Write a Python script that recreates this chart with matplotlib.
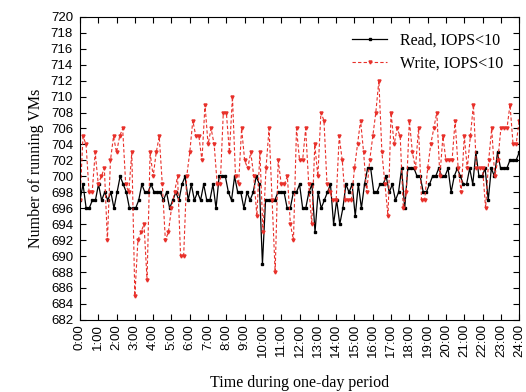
import numpy as np
import matplotlib
import matplotlib.pyplot as plt

matplotlib.use("Agg")

# running VMs, sampled roughly every 10 minutes over one day
read_vms = [
    697, 699, 696, 696, 697, 697, 699, 697, 698, 697, 698, 696, 698, 700, 699, 698,
    696, 696, 696, 697, 699, 698, 698, 699,
    698, 698, 698, 697, 698, 696, 697, 698, 697, 699, 700, 697, 699, 697, 698, 697,
    699, 697, 697, 699, 696, 700, 700, 700,
    698, 697, 700, 698, 698, 696, 698, 697, 698, 700, 699, 689, 697, 697, 697, 697,
    698, 698, 698, 696, 696, 698,
    698, 699, 696, 696, 698, 699, 693, 698, 696, 697, 698, 699, 694, 697, 694, 696,
    699, 698, 699, 695, 699, 696, 699, 701,
    701, 698, 698, 699, 699, 700, 698, 699, 697, 698, 701, 696, 701, 701, 701, 700,
    700, 698, 698, 699, 700, 700, 701, 700,
    700, 701, 698, 700, 701, 700, 699, 699, 701, 699, 703, 700, 700, 701, 697, 701,
    700, 703, 701, 701, 701, 702, 702, 702, 703,
]

write_vms = [
    697, 705, 704, 698, 698, 703, 699, 700, 701, 692, 702, 705, 703, 705, 706, 699,
    698, 703, 685, 692, 693, 694, 687, 703,
    700, 703, 705, 699, 692, 693, 696, 698, 700, 690, 690, 700, 703, 707, 705, 705,
    702, 709, 704, 706, 704, 699, 699, 708,
    708, 703, 710, 700, 699, 706, 702, 701, 703, 700, 695, 703, 693, 701, 706, 697,
    688, 702, 699, 699, 700, 694, 692,
    706, 702, 702, 706, 699, 694, 704, 700, 708, 707, 699, 698, 697, 697, 705, 702,
    697, 697, 697, 701, 704, 707, 703, 698,
    702, 705, 708, 712, 703, 699, 695, 708, 704, 706, 705, 696, 698, 707, 703, 701,
    706, 697, 697, 701, 704, 706, 708, 700,
    705, 702, 702, 702, 707, 701, 698, 705, 701, 705, 709, 701, 701, 701, 696, 702,
    706, 700, 702, 706, 706, 706, 709, 704, 704, 707,
]

hours = list(range(25))
hour_labels = ["%d:00" % h for h in hours]
y_ticks = list(range(682, 721, 2))

t_read = np.linspace(0, 24, len(read_vms))
t_write = np.linspace(0, 24, len(write_vms))

fig = plt.figure(figsize=(5.26, 3.92), dpi=100)
ax = fig.add_axes([0.152, 0.184, 0.835, 0.773])

ax.plot(t_read, read_vms, 'k-', lw=0.9, marker='s', ms=1.6, label="Read, IOPS<10")
ax.plot(t_write, write_vms, color='#e8302a', ls='--', lw=0.8, dashes=(3, 2),
        marker='v', ms=2.2, label="Write, IOPS<10")

ax.set_xlim(0, 24)
ax.set_ylim(682, 720)
ax.set_xticks(hours)
ax.set_xticklabels(hour_labels, rotation=90, family='Liberation Sans', fontsize=9.5)
ax.set_yticks(y_ticks)
ax.set_yticklabels([str(v) for v in y_ticks], family='Liberation Sans', fontsize=9.5)
ax.tick_params(direction='in', top=True, right=True, length=4, width=0.8)
ax.tick_params(axis='y', pad=5)
ax.tick_params(axis='x', pad=3)

ax.set_xlabel("Time during one-day period", family='Liberation Serif', fontsize=11.5, labelpad=13)
ax.set_ylabel("Number of running VMs", family='Liberation Serif', fontsize=11.5, labelpad=5)

ax.legend(loc="upper right", frameon=False, prop={'family': 'Liberation Serif', 'size': 11.5},
          handlelength=2.2, borderaxespad=0.6, labelspacing=0.4)

plt.savefig("out.png")
